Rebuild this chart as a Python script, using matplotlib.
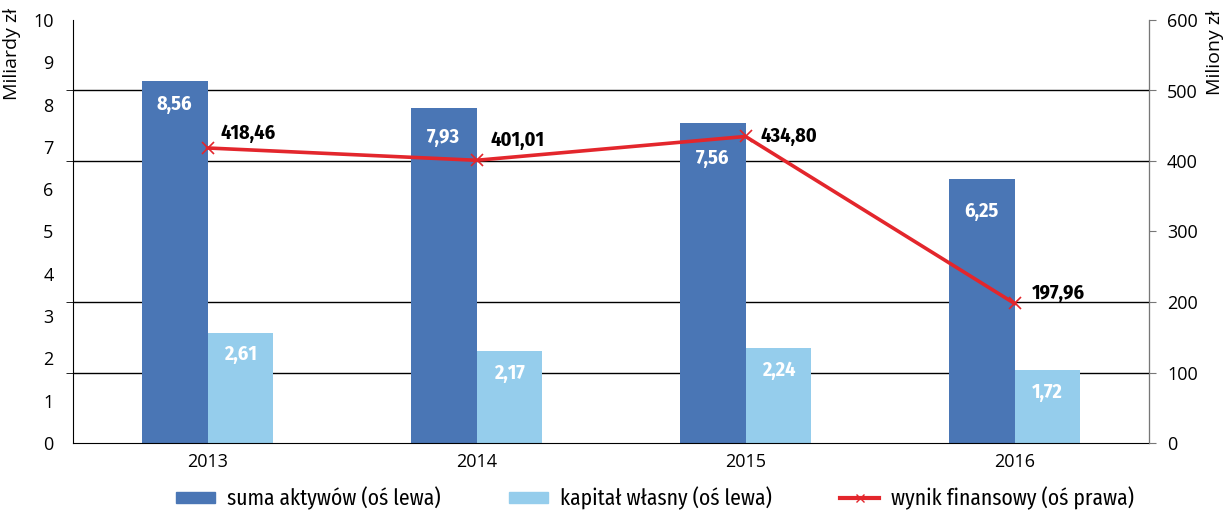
import numpy as np
import matplotlib
matplotlib.use("Agg")
import matplotlib.pyplot as plt
from matplotlib.patches import Patch
from matplotlib.lines import Line2D

years = ["2013", "2014", "2015", "2016"]
aktywa = [8.56, 7.93, 7.56, 6.25]          # mld zł, oś lewa
kapital = [2.61, 2.17, 2.24, 1.72]         # mld zł, oś lewa
wynik = [418.46, 401.01, 434.80, 197.96]   # mln zł, oś prawa

DARK = "#4a76b5"
LIGHT = "#95cdec"
RED = "#e3262c"
TICK_FONT = ["Open Sans", "DejaVu Sans"]
NARROW = ["Fira Sans Condensed", "DejaVu Sans"]

fig = plt.figure(figsize=(12.31, 5.14), dpi=100)
ax = fig.add_axes([73/1231, 1-443/514, (1149-73)/1231, (443-20)/514])
ax2 = ax.twinx()

x = np.arange(len(years))
w = 0.245
ax.bar(x - w/2, aktywa, w, color=DARK, zorder=2)
ax.bar(x + w/2, kapital, w, color=LIGHT, zorder=2)

ax.set_xlim(-0.5, 3.5)
ax.set_ylim(0, 10)
ax.set_yticks(np.arange(0, 11))
ax.set_yticks(np.linspace(0, 10, 7), minor=True)
ax.yaxis.grid(True, which="minor", color="black", lw=1)
ax.set_axisbelow(True)
ax.tick_params(axis="y", which="major", length=0, pad=14)
ax.tick_params(axis="y", which="minor", length=5, color="black")
ax.set_xticks(x)
ax.set_xticklabels(years)
ax.tick_params(axis="x", length=0, pad=7)
for lab in ax.get_xticklabels() + ax.get_yticklabels():
    lab.set_fontfamily(TICK_FONT); lab.set_fontsize(13)
ax.spines["top"].set_visible(False)

ax2.set_ylim(0, 600)
ax2.set_yticks(np.arange(0, 601, 100))
ax2.tick_params(axis="y", length=5, color="#777777", pad=8)
for lab in ax2.get_yticklabels():
    lab.set_fontfamily(TICK_FONT); lab.set_fontsize(13)
for s in ["top", "left", "bottom"]:
    ax2.spines[s].set_visible(False)
ax2.spines["right"].set_color("#777777")

ax2.plot(x, wynik, color=RED, lw=2.6, marker="x", ms=9, mew=1.2, zorder=3)

# etykiety wartości
dark_off = [23, 30, 35, 33]
for xi, v, off in zip(x, aktywa, dark_off):
    ax.annotate(f"{v:.2f}".replace(".", ","), (xi - w/2, v), xytext=(0, -off*0.72),
                textcoords="offset points", ha="center", va="center", color="white",
                fontsize=14.5, fontweight="bold", family=NARROW, zorder=4)
for xi, v in zip(x, kapital):
    ax.annotate(f"{v:.2f}".replace(".", ","), (xi + w/2, v), xytext=(0, -22*0.72),
                textcoords="offset points", ha="center", va="center", color="white",
                fontsize=14.5, fontweight="bold", family=NARROW, zorder=4)
line_off = [(13, 15), (14, 20), (15, 0), (17, 10)]
for xi, v, (dx, dy) in zip(x, wynik, line_off):
    ax2.annotate(f"{v:.2f}".replace(".", ","), (xi, v), xytext=(dx*0.72, dy*0.72),
                 textcoords="offset points", ha="left", va="center", color="black",
                 fontsize=14.5, fontweight="bold", family=NARROW, zorder=4)

fig.text(12/1231, 1-8/514, "Miliardy zł", rotation=90, ha="center", va="top",
         fontsize=14, family=TICK_FONT)
fig.text(1215/1231, 1-10/514, "Miliony zł", rotation=90, ha="center", va="top",
         fontsize=14, family=TICK_FONT)

handles = [Patch(color=DARK), Patch(color=LIGHT),
           Line2D([], [], color=RED, lw=3, marker="x", ms=6, mew=1)]
labels = ["suma aktywów (oś lewa)", "kapitał własny (oś lewa)", "wynik finansowy (oś prawa)"]
fig.legend(handles, labels, loc="center", bbox_to_anchor=(655/1231, 1-498/514), ncol=3,
           frameon=False, prop={"family": NARROW, "size": 15.5}, handlelength=1.8,
           handleheight=0.4, handletextpad=0.55, columnspacing=3.2)

fig.savefig("out.png", dpi=100)
